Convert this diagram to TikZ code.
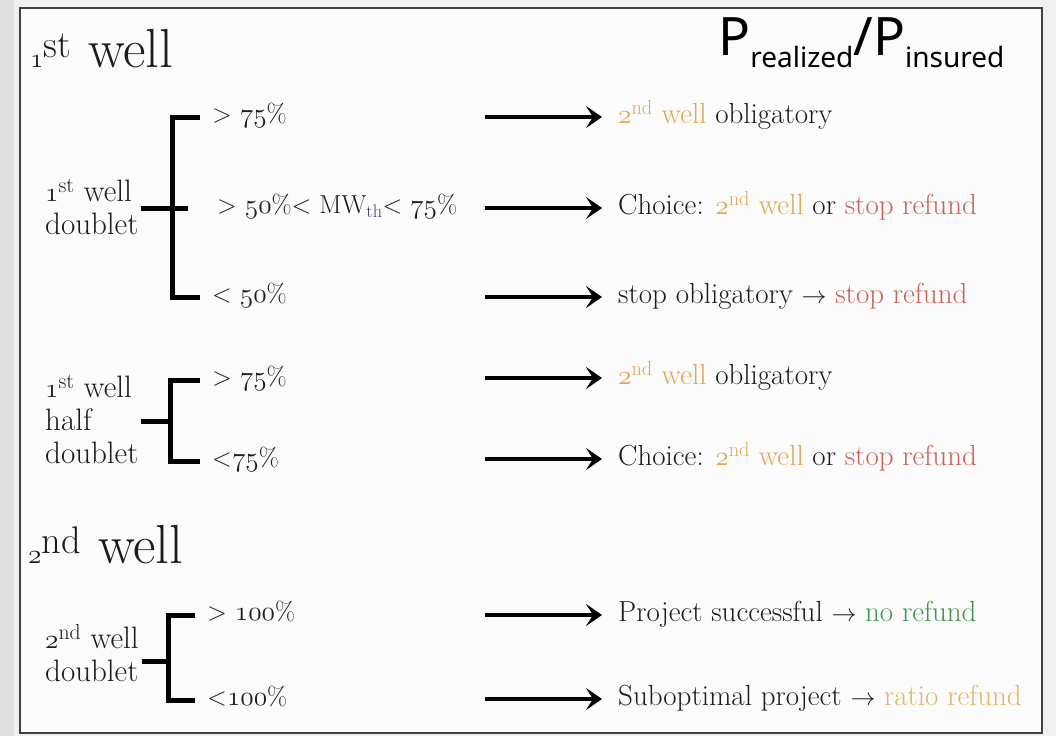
\documentclass[tikz,border=0pt]{standalone}
\usepackage{fontspec}
\newfontfamily\ratiofont{Noto Sans}
\usetikzlibrary{arrows.meta}
\definecolor{wellc}{RGB}{227,166,80}
\definecolor{stopc}{RGB}{200,98,88}
\definecolor{noc}{RGB}{62,150,78}
\definecolor{ratioc}{RGB}{228,182,100}
\definecolor{inkc}{RGB}{28,28,28}
\definecolor{thc}{RGB}{58,62,120}
% old style figures as in the slide
\newcommand\oldfig[1]{{\usefont{OML}{cmm}{m}{it}\scalebox{1.1}{#1}}}
\newcommand\fst{\oldfig{1}\textsuperscript{st}}
\newcommand\snd{\oldfig{2}\textsuperscript{nd}}
\newcommand\wellii{{\color{wellc}\snd{} well}}
\begin{document}
\begin{tikzpicture}[x=1pt,y=-1pt,
    ttl/.style={anchor=base west,inner sep=0pt,text=inkc,font=\fontsize{55}{55}\selectfont},
    grp/.style={anchor=west,align=left,inner xsep=3pt,inner ysep=0pt,text=inkc,font=\fontsize{31}{33}\selectfont},
    cond/.style={anchor=west,inner xsep=12pt,inner ysep=0pt,text height=18pt,text depth=7pt,text=inkc,font=\fontsize{26}{30}\selectfont},
    outc/.style={cond,inner xsep=16pt,text height=20pt,text depth=7.5pt,font=\fontsize{29}{32}\selectfont},
    brk/.style={line width=5pt},
    arr/.style={line width=4pt,-{Stealth[length=16pt,width=22pt,inset=7pt]}}]
        \useasboundingbox (0,0) rectangle (1056,736);
        \fill[black!6] (0,0) rectangle (1056,736);
        \fill[black!12] (0,0) rectangle (14,736);
        \draw[line width=2pt,draw=black!75,fill=black!1.5] (20,8) rectangle (1042,733);
        % titles
        \node[ttl] (t1) at (30,67) {\fst{} well};
        \node[ttl] (t2) at (28,563) {\snd{} well};
        \node[anchor=base west,inner sep=0pt,text=black] (pr) at (718,55)
            {\ratiofont\fontsize{53}{53}\selectfont P\raisebox{-12pt}{\fontsize{28}{28}\selectfont realized}/P\raisebox{-12pt}{\fontsize{28}{28}\selectfont insured}};
        % 1st well doublet
        \node[grp] (g1) at (42,207) {\fst{} well\\doublet};
        \node[cond] (c11) at (200,117) {> \oldfig{75}\%};
        \node[cond] (c12) at (205,208) {> \oldfig{50}\%< MW\textsubscript{\color{thc}th}< \oldfig{75}\%};
        \node[cond] (c13) at (200,297) {< \oldfig{50}\%};
        \coordinate (m1) at (188,208);
        \draw[brk] (c11.west) -- ++(-28,0) |- (c13.west);
        \draw[brk] (g1.east |- m1) -- (m1);
        % 1st well half doublet
        \node[grp] (g2) at (42,419) {\fst{} well\\half\\doublet};
        \node[cond] (c21) at (200,380) {> \oldfig{75}\%};
        \node[cond] (c22) at (200,461) {<\oldfig{75}\%};
        \coordinate (m2) at (170,421);
        \draw[brk] (c21.west) -- ++(-30,0) |- (c22.west);
        \draw[brk] (g2.east |- m2) -- (m2);
        % 2nd well doublet
        \node[grp] (g3) at (42,653) {\snd{} well\\doublet};
        \node[cond] (c31) at (195,615) {> \oldfig{100}\%};
        \node[cond] (c32) at (195,700) {<\oldfig{100}\%};
        \coordinate (m3) at (168,661);
        \draw[brk] (c31.west) -- ++(-27,0) |- (c32.west);
        \draw[brk] (g3.east |- m3) -- (m3);
        % outcomes
        \node[outc] (o1) at (602,117) {\wellii{} obligatory};
        \node[outc] (o2) at (602,208) {Choice: \wellii{} or {\color{stopc}stop refund}};
        \node[outc] (o3) at (602,297) {stop obligatory $\rightarrow$ {\color{stopc}stop refund}};
        \node[outc] (o4) at (602,378) {\wellii{} obligatory};
        \node[outc] (o5) at (602,459) {Choice: \wellii{} or {\color{stopc}stop refund}};
        \node[outc] (o6) at (602,615) {Project successful $\rightarrow$ {\color{noc}no refund}};
        \node[outc] (o7) at (602,699) {Suboptimal project $\rightarrow$ {\color{ratioc}ratio refund}};
        \foreach \i/\y in {1/117,2/208,3/297,4/378,5/459,6/615,7/699}
            \coordinate (a\i) at (485,\y);
        \foreach \i in {1,...,7}
            \draw[arr] (a\i) -- (o\i.west);
\end{tikzpicture}
\end{document}
